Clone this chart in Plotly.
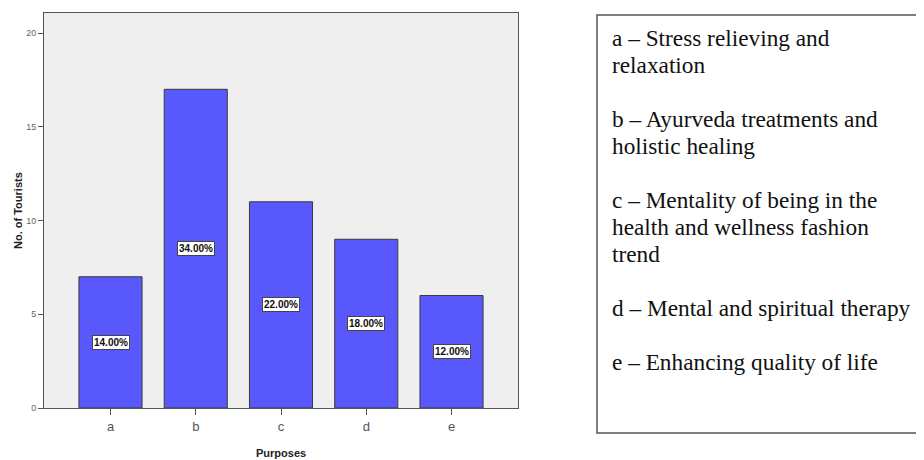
import plotly.graph_objects as go

categories = ["a", "b", "c", "d", "e"]
counts = [7, 17, 11, 9, 6]
pct_labels = ["14.00%", "34.00%", "22.00%", "18.00%", "12.00%"]
y_ticks = [0, 5, 10, 15, 20]
legend_lines = [
    "a – Stress relieving and",
    "relaxation",
    "",
    "b – Ayurveda treatments and",
    "holistic healing",
    "",
    "c – Mentality of being in the",
    "health and wellness fashion",
    "trend",
    "",
    "d – Mental and spiritual therapy",
    "",
    "e – Enhancing quality of life",
]

# page body has an 8px margin; work in figure coordinates
OFF = 8
W, H = 924 - OFF, 460 - OFF
L, R, T, B = 44 - OFF, 518 - OFF, 13 - OFF, 408 - OFF
pw, ph = R - L, B - T

def px(x):
    return (x - OFF - L) / pw

def py(y):
    return (B - (y - OFF)) / ph

fig = go.Figure()
fig.add_trace(go.Bar(
    x=categories, y=counts, width=0.74,
    marker=dict(color="#5858fc", line=dict(color="#3a3a3a", width=1)),
    hoverinfo="skip",
))

annotations = []
for c, v, lab in zip(categories, counts, pct_labels):
    annotations.append(dict(
        x=c, y=v / 2, xref="x", yref="y", text="<b>" + lab + "</b>", showarrow=False,
        font=dict(family="Arial, Liberation Sans, sans-serif", size=10, color="#111"),
        bgcolor="white", bordercolor="#444", borderwidth=1, borderpad=1,
    ))

annotations.append(dict(
    x=px(18), y=py(211), xref="paper", yref="paper", text="<b>No. of Tourists</b>",
    textangle=-90, showarrow=False, xanchor="center", yanchor="middle",
    font=dict(family="Arial, Liberation Sans, sans-serif", size=11, color="#222"),
))
annotations.append(dict(
    x=px(281), y=py(453), xref="paper", yref="paper", text="<b>Purposes</b>",
    showarrow=False, xanchor="center", yanchor="middle",
    font=dict(family="Arial, Liberation Sans, sans-serif", size=11, color="#222"),
))
for i, line in enumerate(legend_lines):
    if not line:
        continue
    annotations.append(dict(
        x=px(610), y=py(38 + 27 * i), xref="paper", yref="paper",
        text=line, showarrow=False, xanchor="left", yanchor="middle", align="left",
        font=dict(family="Liberation Serif, Times New Roman, serif", size=23.3, color="#111"),
    ))

bx0, bx1, by0, by1 = px(597), px(930), py(433), py(15)
box_path = f"M {bx1},{by1} L {bx0},{by1} L {bx0},{by0} L {bx1},{by0}"

fig.update_layout(
    width=W, height=H,
    margin=dict(l=L, r=W - R, t=T, b=H - B, pad=0),
    paper_bgcolor="white", plot_bgcolor="#efefef",
    showlegend=False,
    annotations=annotations,
    shapes=[dict(
        type="path", xref="paper", yref="paper", path=box_path,
        line=dict(color="#555", width=1.5),
    )],
    xaxis=dict(
        range=[-0.78, 4.78], showline=True, mirror=True, linecolor="#555", linewidth=1,
        ticks="outside", ticklen=6, tickcolor="#555", showgrid=False,
        tickfont=dict(family="Arial, Liberation Sans, sans-serif", size=13, color="#555"),
    ),
    yaxis=dict(
        range=[0, 21.07], tickvals=y_ticks, showline=True, mirror=True, linecolor="#555",
        linewidth=1, ticks="outside", ticklen=5, tickcolor="#555", showgrid=False,
        zeroline=False,
        tickfont=dict(family="Arial, Liberation Sans, sans-serif", size=9, color="#666"),
    ),
)

fig.write_html("out.html")
